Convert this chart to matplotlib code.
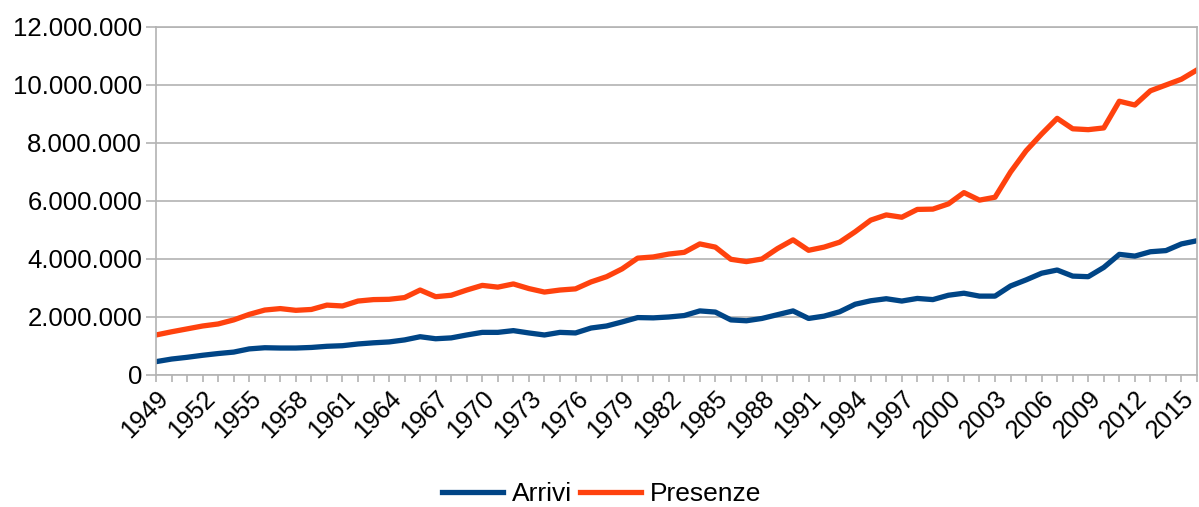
import matplotlib
matplotlib.use("Agg")
import matplotlib.pyplot as plt
from matplotlib.ticker import FuncFormatter

years = list(range(1949, 2017))

arrivi = [
    0.46, 0.55, 0.61, 0.68, 0.74, 0.79, 0.90, 0.94, 0.93, 0.93,
    0.95, 0.99, 1.01, 1.07, 1.11, 1.14, 1.21, 1.32, 1.25, 1.28,
    1.38, 1.47, 1.47, 1.53, 1.45, 1.38, 1.47, 1.45, 1.62, 1.69,
    1.83, 1.98, 1.97, 2.00, 2.05, 2.21, 2.17, 1.90, 1.87, 1.95,
    2.08, 2.21, 1.95, 2.03, 2.18, 2.44, 2.56, 2.63, 2.55, 2.64,
    2.60, 2.75, 2.82, 2.72, 2.72, 3.07, 3.28, 3.51, 3.62, 3.41,
    3.39, 3.71, 4.16, 4.10, 4.25, 4.29, 4.52, 4.63,
]
presenze = [
    1.38, 1.49, 1.59, 1.69, 1.76, 1.90, 2.09, 2.24, 2.29, 2.23,
    2.26, 2.41, 2.38, 2.55, 2.60, 2.61, 2.67, 2.93, 2.70, 2.75,
    2.93, 3.09, 3.03, 3.14, 2.98, 2.86, 2.93, 2.97, 3.21, 3.39,
    3.66, 4.03, 4.07, 4.17, 4.23, 4.52, 4.41, 3.99, 3.91, 4.00,
    4.36, 4.66, 4.30, 4.41, 4.58, 4.94, 5.34, 5.52, 5.44, 5.71,
    5.72, 5.90, 6.29, 6.03, 6.13, 7.00, 7.73, 8.31, 8.85, 8.49,
    8.46, 8.52, 9.44, 9.31, 9.80, 10.00, 10.20, 10.52,
]
arrivi = [v * 1e6 for v in arrivi]
presenze = [v * 1e6 for v in presenze]

series_names = ["Arrivi", "Presenze"]
colors = ["#004586", "#ff420e"]

plt.rcParams['font.family'] = ['Liberation Sans', 'DejaVu Sans']

W, H = 1199, 507
fig = plt.figure(figsize=(W / 100, H / 100), dpi=100)
ax = fig.add_axes([156 / W, 1 - 375 / H, (1197 - 156) / W, (375 - 27) / H])

ax.plot(years, arrivi, color=colors[0], lw=3.8, label=series_names[0], solid_joinstyle='round')
ax.plot(years, presenze, color=colors[1], lw=3.8, label=series_names[1], solid_joinstyle='round')

ax.set_xlim(years[0], years[-1])
ax.set_ylim(0, 12e6)
ax.set_yticks([i * 2e6 for i in range(7)])
ax.yaxis.set_major_formatter(FuncFormatter(lambda v, p: f"{int(v):,}".replace(",", ".")))
ax.set_xticks(years)
ax.set_xticklabels([str(y) if (y - 1949) % 3 == 0 else "" for y in years],
                   rotation=45, ha='right', va='top', rotation_mode='anchor')

gc = "#b3b3b3"
ax.grid(axis='y', color=gc, lw=1.2)
ax.set_axisbelow(True)
for s in ax.spines.values():
    s.set_color(gc)
    s.set_linewidth(1.2)
ax.tick_params(axis='x', colors=gc, labelcolor='black', labelsize=18, length=5, width=1.2, pad=3)
ax.tick_params(axis='y', colors=gc, labelcolor='black', labelsize=18.5, length=7, width=1.2, pad=3)

fig.legend(loc='center', bbox_to_anchor=(602 / W, 1 - 494 / H), ncol=2, frameon=False,
           fontsize=19, handlelength=2.3, handletextpad=0.35, columnspacing=0.3)

fig.savefig("out.png", dpi=100)
